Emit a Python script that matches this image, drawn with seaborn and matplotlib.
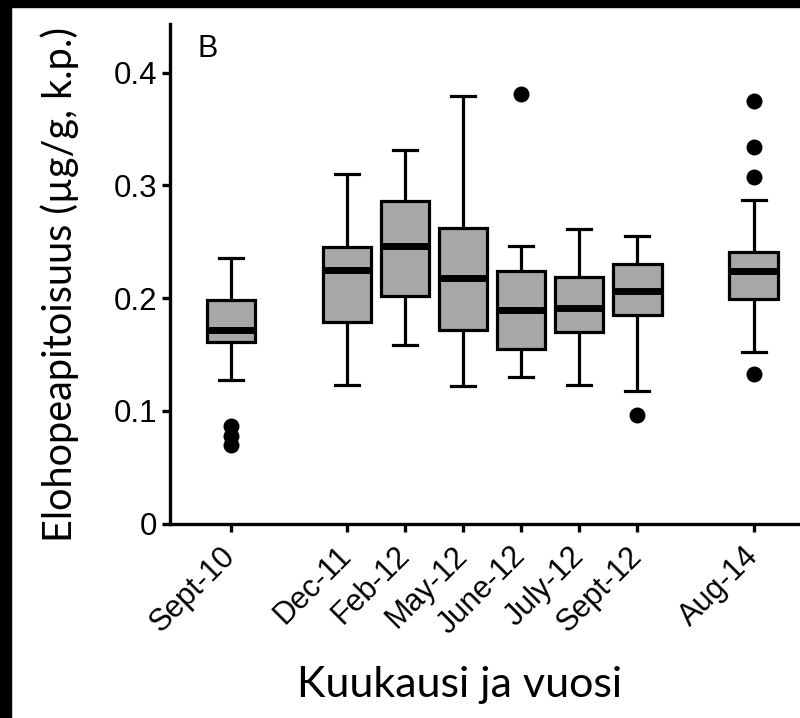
import numpy as np
import pandas as pd
import matplotlib
matplotlib.use('Agg')
import matplotlib.pyplot as plt
import seaborn as sns
from matplotlib.patches import Rectangle
from matplotlib.ticker import FuncFormatter

# months (with blank slots for the gaps on the axis)
months = ['Sept-10', 'Dec-11', 'Feb-12', 'May-12', 'June-12', 'July-12', 'Sept-12', 'Aug-14']
slots = ['Sept-10', ' ', 'Dec-11', 'Feb-12', 'May-12', 'June-12', 'July-12', 'Sept-12', '  ', 'Aug-14']

# five number summary: low whisker, q1, median, q3, high whisker
low = [0.1275, 0.123, 0.158, 0.122, 0.130, 0.123, 0.1177, 0.1526]
q1 = [0.161, 0.179, 0.202, 0.172, 0.155, 0.170, 0.1846, 0.1994]
med = [0.172, 0.225, 0.246, 0.218, 0.1896, 0.191, 0.2065, 0.2242]
q3 = [0.1985, 0.245, 0.2857, 0.262, 0.2236, 0.219, 0.2304, 0.2408]
high = [0.2355, 0.310, 0.331, 0.379, 0.2464, 0.2615, 0.2547, 0.287]

# outliers
out_month = ['Sept-10', 'Sept-10', 'Sept-10', 'June-12', 'Sept-12', 'Aug-14', 'Aug-14', 'Aug-14', 'Aug-14']
out_val = [0.087, 0.078, 0.070, 0.381, 0.0965, 0.3745, 0.334, 0.307, 0.1328]

rows = []
for i, m in enumerate(months):
    for v in [low[i], q1[i], med[i], q3[i], high[i]]:
        rows.append({'kk': m, 'hg': v})
df = pd.DataFrame(rows)
df_out = pd.DataFrame({'kk': out_month, 'hg': out_val})

plt.rcParams['font.family'] = ['Liberation Sans', 'DejaVu Sans']
plt.rcParams['xtick.labelsize'] = 22
plt.rcParams['ytick.labelsize'] = 22.5

fig = plt.figure(figsize=(8, 7.18), dpi=100)
ax = fig.add_axes([170/800, 1-523.7/718, 1-170/800, (523.7-24)/718])

sns.boxplot(data=df, x='kk', y='hg', order=slots, ax=ax, whis=(0, 100), showfliers=False,
            color='#a8a8a8', saturation=1, linecolor='black', width=0.83, linewidth=2.3,
            medianprops={'linewidth': 5})
sns.stripplot(data=df_out, x='kk', y='hg', order=slots, ax=ax, jitter=False,
              color='black', size=11.5, zorder=5)

ax.set_xlim(-1.05, 9.8)
ax.set_ylim(0, 0.443)
ax.set_yticks([0, 0.1, 0.2, 0.3, 0.4])
ax.yaxis.set_major_formatter(FuncFormatter(lambda v, p: '0' if v == 0 else f'{v:.1f}'))

ticks = [slots.index(m) for m in months]
ax.set_xticks(ticks)
ax.set_xticklabels(months, rotation=45, ha='right', va='center', rotation_mode='anchor')

for s in ['top', 'right']:
    ax.spines[s].set_visible(False)
for s in ['left', 'bottom']:
    ax.spines[s].set_linewidth(2.4)
ax.tick_params(width=2.4, length=6, direction='out')
ax.tick_params(axis='y', pad=3)
ax.tick_params(axis='x', pad=14)

ax.set_ylabel('Elohopeapitoisuus (µg/g, k.p.)', family='Lato', fontsize=28.5)
ax.set_xlabel('Kuukausi ja vuosi', family='Lato', fontsize=31)
ax.yaxis.set_label_coords(-0.145, 0.478)
ax.xaxis.set_label_coords(0.46, -0.285)

ax.text(0.044, 0.98, 'B', transform=ax.transAxes, fontsize=22, va='top', ha='left')

# black frame edges of the original image
fig.add_artist(Rectangle((0, 1-7/718), 1, 7/718, transform=fig.transFigure, color='black'))
fig.add_artist(Rectangle((0, 0), 11/800, 1, transform=fig.transFigure, color='black'))

fig.savefig('out.png', dpi=100)
